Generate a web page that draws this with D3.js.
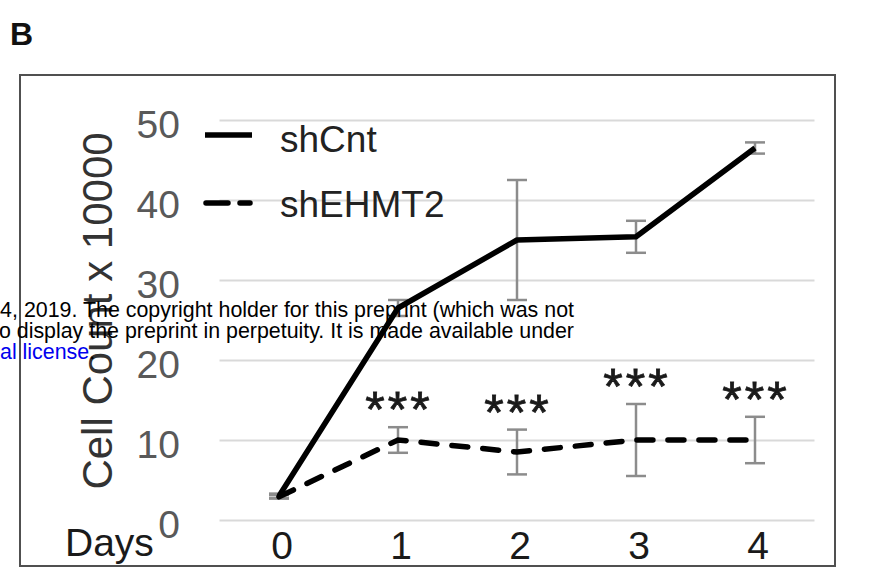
<!DOCTYPE html>
<html>
<head>
<meta charset="utf-8">
<script src="https://cdn.jsdelivr.net/npm/d3@7"></script>
<style>
  html, body { margin: 0; padding: 0; background: #fff; }
  svg { display: block; font-family: "Liberation Sans", Arial, sans-serif; }
</style>
</head>
<body>
<svg id="chart" width="872" height="567"></svg>
<script>
// Cell growth after knock-down, cell count (x 10000) per day
const days = [0, 1, 2, 3, 4];
const shCnt = [3.0, 26.5, 35.0, 35.4, 46.5];
const shCntErr = [0.3, 1.0, 7.5, 2.0, 0.7];
const shEHMT2 = [2.9, 10.0, 8.5, 10.0, 10.0];
const shEHMT2Err = [0.2, 1.6, 2.8, 4.5, 2.9];
const significance = ["", "***", "***", "***", "***"];
const yTicks = [0, 10, 20, 30, 40, 50];
const seriesNames = ["shCnt", "shEHMT2"];

const svg = d3.select("#chart");

// panel letter
svg.append("text").attr("x", 10).attr("y", 45)
  .attr("font-size", 32).attr("font-weight", "bold").attr("fill", "#111")
  .text("B");

// outer frame
svg.append("rect").attr("x", 20).attr("y", 75).attr("width", 815).attr("height", 491)
  .attr("fill", "none").attr("stroke", "#505050").attr("stroke-width", 2);

const x = d3.scaleBand().domain(days).range([219.5, 814.5]).padding(0);
const cx = d => x(d) + x.bandwidth() / 2;
const y = d3.scaleLinear().domain([0, 50]).range([520, 120]);

// horizontal gridlines
const yAxis = d3.axisLeft(y).tickValues(yTicks).tickSize(-(814.5 - 219.5)).tickFormat("");
const gGrid = svg.append("g").attr("transform", "translate(219.5,0)").call(yAxis);
gGrid.select(".domain").remove();
gGrid.selectAll(".tick line").attr("stroke", "#d9d9d9").attr("stroke-width", 2);

// y tick labels
svg.append("g").selectAll("text").data(yTicks).join("text")
  .attr("x", 180).attr("y", d => y(d) + 18)
  .attr("text-anchor", "end").attr("font-size", 39).attr("fill", "#595959")
  .text(d => d);

// x tick labels
svg.append("g").selectAll("text").data(days).join("text")
  .attr("x", d => cx(d) + 3).attr("y", 559)
  .attr("text-anchor", "middle").attr("font-size", 39).attr("fill", "#1a1a1a")
  .text(d => d);

// axis titles
svg.append("text").attr("x", 65).attr("y", 556)
  .attr("font-size", 39).attr("fill", "#1a1a1a").text("Days");
svg.append("text")
  .attr("transform", "translate(112,311) rotate(-90)")
  .attr("text-anchor", "middle").attr("font-size", 42).attr("fill", "#333")
  .text("Cell Count x 10000");

// error bars
function errorBars(vals, errs) {
  const g = svg.append("g").attr("stroke", "#8c8c8c").attr("stroke-width", 2.5).attr("fill", "none");
  days.forEach((d, i) => {
    const x0 = cx(d), lo = y(vals[i] - errs[i]), hi = y(vals[i] + errs[i]);
    g.append("line").attr("x1", x0).attr("x2", x0).attr("y1", lo).attr("y2", hi);
    g.append("line").attr("x1", x0 - 10).attr("x2", x0 + 10).attr("y1", lo).attr("y2", lo);
    g.append("line").attr("x1", x0 - 10).attr("x2", x0 + 10).attr("y1", hi).attr("y2", hi);
  });
}
errorBars(shCnt, shCntErr);
errorBars(shEHMT2, shEHMT2Err);

// series lines
const line = d3.line().x((d, i) => cx(days[i])).y(d => y(d));
svg.append("path").datum(shCnt).attr("d", line)
  .attr("fill", "none").attr("stroke", "#000").attr("stroke-width", 5.5)
  .attr("stroke-linejoin", "round");
svg.append("path").datum(shEHMT2).attr("d", line)
  .attr("fill", "none").attr("stroke", "#000").attr("stroke-width", 5.5)
  .attr("stroke-linecap", "round").attr("stroke-dasharray", "16,15");

// significance marks above shEHMT2 error bars
svg.append("g").selectAll("text").data(days).join("text")
  .attr("x", d => cx(d) + 1)
  .attr("y", (d, i) => y(shEHMT2[i] + shEHMT2Err[i]))
  .attr("text-anchor", "middle").attr("font-size", 50).attr("letter-spacing", 3)
  .attr("fill", "#1a1a1a").attr("stroke", "#1a1a1a").attr("stroke-width", 0.8)
  .text((d, i) => significance[i]);

// legend
const leg = svg.append("g");
leg.append("line").attr("x1", 205).attr("x2", 252).attr("y1", 135).attr("y2", 135)
  .attr("stroke", "#000").attr("stroke-width", 5.5);
leg.append("line").attr("x1", 206).attr("x2", 250).attr("y1", 203).attr("y2", 203)
  .attr("stroke", "#000").attr("stroke-width", 5.5)
  .attr("stroke-linecap", "round").attr("stroke-dasharray", "22,12");
leg.selectAll("text.name").data(seriesNames).join("text").attr("class", "name")
  .attr("x", 280).attr("y", (d, i) => i === 0 ? 152 : 217)
  .attr("font-size", 37).attr("fill", "#222")
  .text(d => d);

// preprint header lines overlapping the figure
const hdr = svg.append("g").attr("font-size", 21.4).attr("fill", "#000");
hdr.append("text").attr("x", 574).attr("y", 317).attr("text-anchor", "end")
  .text("4, 2019. The copyright holder for this preprint (which was not");
hdr.append("text").attr("x", 574).attr("y", 338).attr("text-anchor", "end")
  .text("o display the preprint in perpetuity. It is made available under");
const l3 = hdr.append("text").attr("x", 0).attr("y", 359);
l3.append("tspan").attr("fill", "#0000ee").text("al license");
l3.append("tspan").text(".");
</script>
</body>
</html>
